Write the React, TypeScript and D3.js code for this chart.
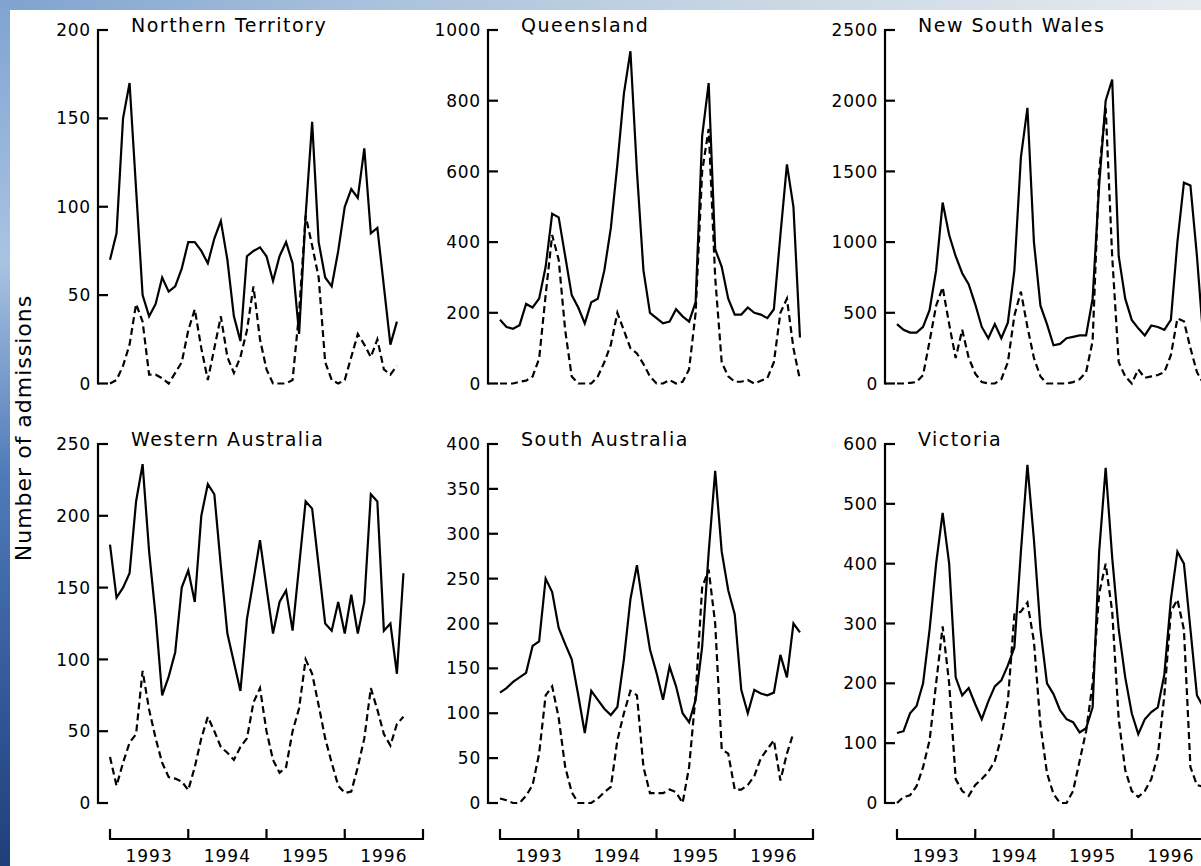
import React from 'react';
import * as d3 from 'd3';

// Monthly hospital admissions, Jan 1993 onwards (index 0 = Jan 1993).
// "total" = all admissions (solid line), "rsv" = RSV-coded admissions (dashed line).

const yearLabels = ['1993', '1994', '1995', '1996'];

const ntTotal = [70, 85, 150, 170, 110, 50, 38, 45, 60, 52, 55, 65, 80, 80, 75, 68, 82, 92, 70, 38, 24, 72, 75, 77, 72, 58, 72, 80, 68, 28, 95, 148, 80, 60, 55, 75, 100, 110, 105, 133, 85, 88, 55, 22, 35];
const ntRsv = [0, 2, 10, 22, 45, 35, 5, 5, 3, 0, 6, 12, 30, 42, 20, 2, 20, 38, 15, 6, 15, 30, 55, 25, 8, 0, 0, 0, 2, 40, 95, 78, 60, 12, 2, 0, 2, 15, 28, 22, 15, 25, 8, 5, 10];

const qldTotal = [180, 160, 155, 165, 225, 215, 240, 330, 480, 470, 360, 250, 215, 170, 230, 240, 320, 440, 620, 820, 940, 600, 320, 200, 185, 170, 175, 210, 190, 175, 230, 700, 850, 380, 330, 240, 195, 195, 215, 200, 195, 185, 210, 420, 620, 500, 130];
const qldRsv = [0, 0, 0, 5, 8, 20, 70, 250, 420, 350, 150, 20, 0, 0, 0, 20, 60, 110, 200, 150, 100, 85, 55, 20, 0, 0, 10, 0, 5, 40, 200, 600, 720, 300, 60, 20, 5, 5, 10, 0, 8, 15, 60, 200, 240, 100, 10];

const nswTotal = [420, 380, 360, 360, 400, 520, 800, 1280, 1050, 900, 780, 700, 560, 400, 320, 420, 320, 430, 800, 1600, 1950, 1000, 550, 420, 270, 280, 320, 330, 340, 340, 600, 1400, 2000, 2150, 900, 600, 450, 390, 340, 410, 400, 380, 450, 1000, 1420, 1400, 900, 300];
const nswRsv = [0, 0, 5, 10, 60, 300, 550, 680, 420, 180, 380, 180, 70, 10, 0, 0, 30, 150, 480, 650, 400, 180, 50, 0, 0, 0, 0, 10, 30, 80, 300, 1500, 1950, 900, 150, 50, 0, 100, 40, 50, 60, 80, 200, 460, 440, 250, 80, 0];

const waTotal = [180, 143, 150, 160, 210, 236, 175, 130, 75, 88, 105, 150, 162, 140, 200, 222, 215, 165, 118, 98, 78, 128, 155, 183, 150, 118, 140, 148, 120, 165, 210, 205, 165, 125, 120, 140, 118, 145, 118, 140, 215, 210, 120, 125, 90, 160];
const waRsv = [32, 12, 28, 42, 48, 92, 65, 45, 28, 18, 17, 15, 9, 25, 45, 60, 50, 39, 35, 30, 39, 45, 70, 80, 50, 30, 21, 25, 50, 66, 100, 90, 68, 45, 28, 12, 7, 8, 25, 45, 80, 65, 48, 40, 55, 60];

const saTotal = [123, 128, 135, 140, 145, 175, 180, 250, 235, 195, 177, 160, 120, 78, 125, 115, 105, 98, 107, 160, 227, 265, 216, 171, 145, 115, 152, 130, 100, 90, 115, 174, 279, 370, 280, 237, 210, 126, 100, 126, 122, 120, 123, 165, 140, 200, 190];
const saRsv = [5, 3, 0, 0, 8, 20, 55, 120, 130, 95, 40, 12, 0, 0, 0, 5, 12, 18, 70, 100, 125, 120, 40, 11, 11, 11, 15, 12, 0, 40, 120, 240, 260, 200, 60, 55, 15, 15, 20, 30, 50, 60, 70, 25, 55, 78];

const vicTotal = [117, 120, 150, 162, 200, 290, 400, 485, 400, 210, 180, 192, 165, 140, 170, 195, 205, 230, 260, 420, 565, 440, 290, 200, 182, 155, 140, 135, 118, 125, 160, 420, 560, 410, 290, 210, 150, 115, 140, 152, 160, 215, 340, 420, 400, 290, 180, 160];
const vicRsv = [0, 10, 13, 28, 60, 105, 200, 295, 200, 40, 20, 12, 30, 40, 52, 70, 110, 170, 315, 320, 335, 270, 130, 50, 15, 0, 0, 20, 70, 120, 200, 350, 400, 320, 140, 55, 20, 10, 20, 40, 80, 180, 320, 340, 290, 60, 30, 27];

type PanelDef = {
  name: string;
  total: number[];
  rsv: number[];
  max: number;
  step: number;
  col: number;
  row: number;
};

const panels: PanelDef[] = [
  { name: 'Northern Territory', total: ntTotal, rsv: ntRsv, max: 200, step: 50, col: 0, row: 0 },
  { name: 'Queensland', total: qldTotal, rsv: qldRsv, max: 1000, step: 200, col: 1, row: 0 },
  { name: 'New South Wales', total: nswTotal, rsv: nswRsv, max: 2500, step: 500, col: 2, row: 0 },
  { name: 'Western Australia', total: waTotal, rsv: waRsv, max: 250, step: 50, col: 0, row: 1 },
  { name: 'South Australia', total: saTotal, rsv: saRsv, max: 400, step: 50, col: 1, row: 1 },
  { name: 'Victoria', total: vicTotal, rsv: vicRsv, max: 600, step: 100, col: 2, row: 1 },
];

// Layout
const W = 1201;
const H = 866;
const axisXs = [98, 488, 885]; // y-axis line per column
const startXs = [110, 500, 897]; // Jan 1993 per column
const spanX = 313; // four years
const rowBase = [383.5, 803]; // value 0
const rowTop = [30, 444]; // top tick
const xAxisY = 839;

const FONT = "'DejaVu Sans', sans-serif";

function xScaleFor(col: number) {
  return d3.scaleLinear().domain([0, 48]).range([startXs[col], startXs[col] + spanX]);
}

function Panel({ p }: { p: PanelDef }) {
  const x = xScaleFor(p.col);
  const y = d3.scaleLinear().domain([0, p.max]).range([rowBase[p.row], rowTop[p.row]]);
  const ticks = d3.range(0, p.max + p.step / 2, p.step);
  const line = d3
    .line<number>()
    .x((_, i) => x(i))
    .y((d) => y(d));
  const ax = axisXs[p.col];
  return (
    <g>
      <line x1={ax} x2={ax} y1={y(p.max) - 1} y2={y(0) + 1} stroke="#000" strokeWidth={2.2} />
      {ticks.map((t) => (
        <g key={t}>
          <line x1={ax} x2={ax + 10} y1={y(t)} y2={y(t)} stroke="#000" strokeWidth={2.2} />
          <text
            x={ax - 7}
            y={y(t)}
            dy="0.36em"
            textAnchor="end"
            fontFamily={FONT}
            fontSize={17}
            letterSpacing={0.8}
            fill="#000"
          >
            {t}
          </text>
        </g>
      ))}
      <text
        x={ax + 33}
        y={rowTop[p.row] + 2}
        fontFamily={FONT}
        fontSize={19}
        letterSpacing={1.5}
        fill="#000"
      >
        {p.name}
      </text>
      <path d={line(p.rsv) || ''} fill="none" stroke="#000" strokeWidth={2.2} strokeDasharray="7 4" />
      <path d={line(p.total) || ''} fill="none" stroke="#000" strokeWidth={2.2} strokeLinejoin="miter" />
    </g>
  );
}

function XAxis({ col }: { col: number }) {
  const x = xScaleFor(col);
  const tickMonths = [0, 12, 24, 36, 48];
  return (
    <g>
      <line x1={x(0) - 1} x2={x(48) + 1} y1={xAxisY} y2={xAxisY} stroke="#000" strokeWidth={2.2} />
      {tickMonths.map((m) => (
        <line key={m} x1={x(m)} x2={x(m)} y1={xAxisY} y2={xAxisY - 10} stroke="#000" strokeWidth={2.2} />
      ))}
      {yearLabels.map((lab, i) => (
        <text
          key={lab}
          x={x(i * 12 + 6)}
          y={862}
          textAnchor="middle"
          fontFamily={FONT}
          fontSize={17}
          letterSpacing={1}
          fill="#000"
        >
          {lab}
        </text>
      ))}
    </g>
  );
}

export default function App() {
  return (
    <svg
      width={W}
      height={H}
      viewBox={`0 0 ${W} ${H}`}
      style={{ position: 'absolute', left: 0, top: 0, display: 'block' }}
    >
      <defs>
        <linearGradient id="leftStrip" x1="0" y1="0" x2="0" y2="1">
          <stop offset="0" stopColor="#7fa4d2" />
          <stop offset="0.3" stopColor="#a9c3e2" />
          <stop offset="0.55" stopColor="#4f7ab8" />
          <stop offset="0.8" stopColor="#33599a" />
          <stop offset="1" stopColor="#1f3f78" />
        </linearGradient>
        <linearGradient id="topStrip" x1="0" y1="0" x2="1" y2="0">
          <stop offset="0" stopColor="#7fa3cf" />
          <stop offset="0.3" stopColor="#a8c1dc" />
          <stop offset="0.65" stopColor="#cbd8e4" />
          <stop offset="1" stopColor="#e6ebef" />
        </linearGradient>
      </defs>
      <rect x={0} y={0} width={W} height={H} fill="#fff" />
      <rect x={0} y={0} width={W} height={10} fill="url(#topStrip)" />
      <rect x={0} y={0} width={10} height={H} fill="url(#leftStrip)" />

      <text
        transform="translate(31,428) rotate(-90)"
        textAnchor="middle"
        fontFamily={FONT}
        fontSize={22}
        letterSpacing={1}
        fill="#000"
      >
        Number of admissions
      </text>

      {panels.map((p) => (
        <Panel key={p.name} p={p} />
      ))}
      {[0, 1, 2].map((c) => (
        <XAxis key={c} col={c} />
      ))}
    </svg>
  );
}
